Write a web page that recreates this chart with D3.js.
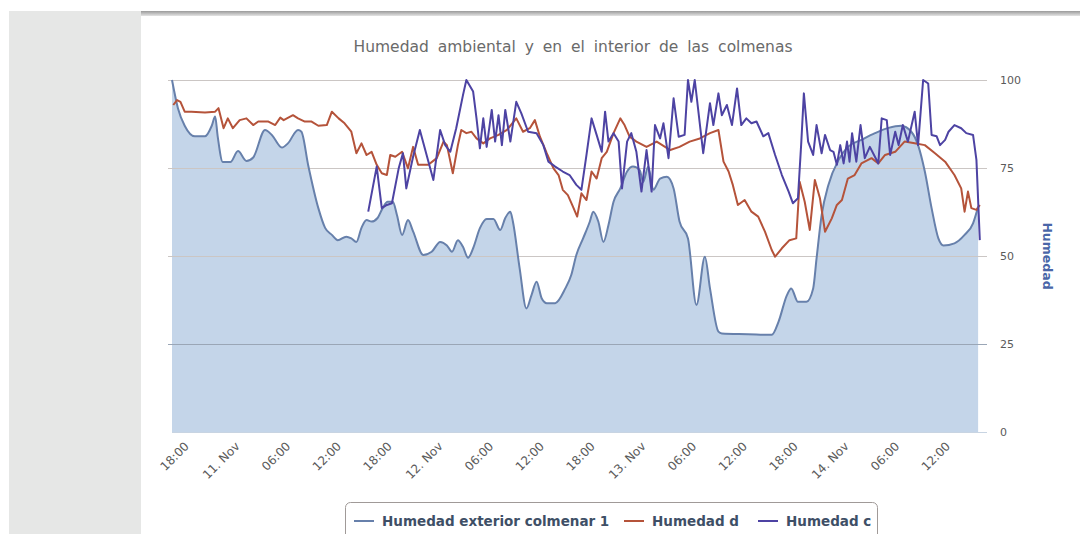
<!DOCTYPE html>
<html>
<head>
<meta charset="utf-8">
<script src="https://cdn.jsdelivr.net/npm/d3@7"></script>
<style>
  html, body { margin: 0; padding: 0; background: #fff; }
  svg { display: block; font-family: "DejaVu Sans", Verdana, sans-serif; }
</style>
</head>
<body>
<svg id="chart" width="1080" height="534"></svg>
<script>
// time of first sample, values given as [hours since start, %]
const startTime = new Date(2013, 10, 10, 16, 30);

const seriesNames = ['Humedad exterior colmenar 1', 'Humedad d', 'Humedad c'];
const yTicks = [0, 25, 50, 75, 100];

const humExterior = [
  [0, 100], [0.7, 92], [1.5, 87], [2.7, 84], [3.9, 84], [4.7, 87], [5.1, 89.6], [5.4, 84],
  [6.0, 76.7], [6.9, 76.7], [7.8, 79.8], [8.8, 77], [9.6, 78], [11.0, 85.8], [11.8, 84.4],
  [13.0, 80.8], [13.7, 82], [14.9, 85.8], [15.3, 85.3], [16.1, 75.8], [17.3, 63.6], [18.1, 58],
  [18.9, 56], [19.6, 54.5], [20.6, 55.5], [21.2, 55], [21.8, 54], [22.4, 58], [23.0, 60.2],
  [23.6, 59.8], [24.3, 60.8], [24.9, 63.6], [25.5, 65.4], [26.1, 65.4], [26.6, 61.6], [27.2, 56],
  [27.9, 60.2], [28.5, 57], [29.7, 50.3], [30.7, 51.2], [31.7, 54], [32.5, 53], [33.1, 51.2],
  [33.8, 54.5], [34.4, 52.6], [35.0, 49.5], [35.6, 52.2], [36.4, 57.9], [37.2, 60.5], [38.0, 60.5],
  [38.8, 57.4], [39.4, 60.8], [40.0, 62.6], [40.3, 59.8], [41.1, 46.5], [41.9, 35.1], [42.5, 38.9],
  [43.1, 42.7], [43.7, 38], [44.3, 36.6], [45.3, 36.6], [46.5, 40.8], [47.2, 44.6], [47.8, 50.3],
  [48.6, 55], [49.4, 59.8], [49.8, 62.6], [50.4, 59.8], [51.0, 54], [51.6, 58.8], [52.2, 65.4],
  [53.0, 69.2], [53.8, 74], [54.5, 75.4], [55.3, 74.4], [55.7, 71], [56.3, 75.4], [56.9, 68.8],
  [57.7, 72], [58.5, 72.5], [59.3, 69.2], [60.0, 59.8], [61.0, 55], [62.0, 36.1], [63.0, 49.8],
  [63.6, 40.8], [64.6, 28.5], [65.0, 28], [68.1, 27.8], [70.9, 27.6], [71.7, 31.3], [72.7, 38.9],
  [73.2, 40.8], [74.0, 37], [75.0, 37], [75.8, 40.8], [76.2, 49.3], [76.8, 61.6], [77.6, 70.2],
  [78.8, 77.3], [79.9, 81], [81.5, 83], [83.1, 84.9], [84.7, 86.4], [86.2, 87], [87.4, 85.3],
  [88.2, 81.5], [89.0, 74], [89.8, 63.6], [90.6, 55], [91.2, 53], [92.5, 53.6], [93.7, 56],
  [94.7, 59.3], [95.3, 64]
];

const humD = [
  [0.15, 92.9], [0.6, 94.3], [1.0, 93.8], [1.5, 91], [2.3, 91], [3.9, 90.8], [5.1, 91], [5.5, 92],
  [6.1, 86.3], [6.6, 89.1], [7.2, 86.3], [8.0, 88.6], [8.8, 89.1], [9.6, 87.2], [10.2, 88.2],
  [11.4, 88.2], [12.2, 87.2], [12.8, 89.3], [13.2, 88.6], [14.3, 90], [14.9, 89.1], [15.7, 88.2],
  [16.5, 88.2], [17.3, 87], [18.3, 87.2], [18.9, 91], [19.7, 89.1], [20.4, 87.7], [21.2, 85.3],
  [21.8, 79.2], [22.4, 82], [23.0, 78.7], [23.6, 79.6], [24.2, 75.9], [24.8, 73.5], [25.4, 73],
  [25.8, 78.7], [26.4, 78.2], [27.2, 79.6], [27.9, 74.9], [28.5, 81], [29.1, 75.9], [30.3, 75.9],
  [31.3, 77.8], [32.1, 82.5], [32.5, 81.5], [33.2, 73.5], [33.8, 81.5], [34.2, 85.8], [34.8, 84.9],
  [35.4, 85.3], [36.0, 83.4], [36.8, 82], [37.6, 83.4], [38.6, 84.4], [39.6, 85.8], [40.7, 89.1],
  [41.5, 85.3], [42.3, 86.3], [42.9, 88.6], [43.5, 83.9], [44.3, 79.2], [45.1, 74.9], [45.7, 73],
  [46.2, 68.8], [46.8, 67.3], [47.4, 64], [47.9, 61.2], [48.4, 67.8], [49.0, 65.9], [49.6, 74],
  [50.2, 72], [50.8, 77.8], [51.4, 79.6], [52.2, 84.9], [53.0, 89.1], [53.5, 87.2], [54.1, 83.9],
  [54.9, 82.5], [56.1, 81], [57.3, 82.5], [58.9, 80.1], [60.0, 81], [61.2, 82.5], [62.4, 83.4],
  [63.6, 84.9], [64.6, 85.8], [65.2, 76.8], [65.8, 74], [66.3, 70.2], [66.9, 64.5], [67.7, 65.9],
  [68.5, 62.6], [69.3, 61.2], [70.1, 56.9], [70.9, 51.7], [71.3, 49.8], [72.1, 52.2], [73.0, 54.5],
  [73.8, 55], [74.2, 71.1], [74.8, 65.4], [75.4, 57.4], [76.0, 71.6], [76.6, 66.4], [77.2, 56.9],
  [78.0, 60.7], [78.6, 64.5], [79.2, 65.9], [79.9, 72], [80.7, 73], [81.5, 76.3], [82.7, 77.8],
  [83.5, 76.3], [84.3, 78.7], [85.5, 79.6], [86.6, 82.5], [87.8, 82], [89.0, 81.5], [90.2, 79.2],
  [91.4, 76.8], [92.5, 73], [93.3, 69.2], [93.7, 62.6], [94.1, 68.3], [94.5, 63.6], [95.1, 63.1],
  [95.5, 64.5]
];

const humC = [
  [23.2, 62.6], [24.2, 75.4], [24.8, 63.6], [25.4, 64.5], [26.0, 65], [26.8, 74.9], [27.3, 79.2],
  [27.7, 69.2], [28.5, 78.2], [29.3, 85.8], [30.1, 78.7], [30.9, 71.6], [31.7, 85.8], [32.3, 81.5],
  [32.9, 79.6], [33.6, 86.3], [34.4, 95.7], [34.8, 100], [35.6, 96.7], [36.0, 89.1], [36.4, 80.6],
  [36.8, 89.1], [37.2, 81], [37.8, 91.5], [38.2, 82.5], [38.6, 90], [39.0, 81.5], [39.4, 91.5],
  [40.0, 82.5], [40.7, 93.8], [41.3, 90.5], [42.1, 85.3], [43.1, 84.9], [43.9, 81.5], [44.5, 76.8],
  [45.3, 75.4], [46.2, 74], [47.0, 73], [47.8, 70.2], [48.4, 68.8], [49.0, 78.7], [49.6, 89.1],
  [50.2, 84.4], [50.8, 79.6], [51.2, 91], [51.6, 82.5], [52.2, 84.9], [52.8, 82.5], [53.2, 69.2],
  [53.8, 82.5], [54.3, 84.9], [54.9, 79.6], [55.5, 68.3], [56.1, 80.1], [56.7, 68.3], [57.1, 87.2],
  [57.7, 83.4], [58.1, 87.7], [58.7, 77.8], [59.3, 94.8], [59.9, 83.9], [60.6, 84.4], [61.0, 100],
  [61.4, 93.8], [61.8, 100], [62.8, 79.2], [63.6, 93.4], [64.0, 87.2], [64.6, 96.2], [65.0, 90],
  [65.6, 92.9], [66.2, 87.2], [66.8, 97.6], [67.3, 87.2], [67.9, 89.1], [68.5, 87.7], [69.1, 88.2],
  [69.9, 84], [70.5, 84.9], [71.3, 78.7], [72.1, 73], [72.9, 68.3], [73.4, 65], [74.0, 66.4],
  [74.4, 82.5], [74.7, 96.2], [75.2, 82.5], [75.8, 78.7], [76.2, 87.2], [76.8, 79.2], [77.2, 84.4],
  [77.8, 80.1], [78.2, 79.6], [78.6, 75.9], [79.0, 81.5], [79.4, 76.3], [79.8, 82.5], [80.1, 76.8],
  [80.4, 84.9], [80.9, 76.8], [81.4, 87.2], [81.9, 77.8], [82.5, 81], [83.1, 78.2], [83.5, 76.3],
  [83.9, 89.1], [84.5, 88.6], [84.9, 78.7], [85.5, 85.3], [85.9, 81.5], [86.4, 87.2], [87.0, 82.5],
  [87.8, 91], [88.2, 81.5], [88.8, 100], [89.4, 99], [89.8, 84.4], [90.4, 84], [90.8, 81.5],
  [91.4, 83], [91.8, 85.3], [92.5, 87.2], [93.3, 86.3], [93.9, 84.9], [94.7, 84.4], [95.1, 77.3],
  [95.5, 54.5]
];

const colors = {
  exteriorLine: '#6780ab',
  exteriorFill: '#c4d5e9',
  d: '#b5533a',
  c: '#4d43a3',
  grid: '#cbc6c4',
  label: '#5a5a5a',
  axisTitle: '#4a66a8',
  legendText: '#3e4f66',
};

const toDate = h => d3.timeMinute.offset(startTime, Math.round(h * 60));

const margin = { left: 172, right: 987, top: 80, bottom: 432 };
const svg = d3.select('#chart');

// page frame: grey side panel and top rule
svg.append('rect').attr('x', 9).attr('y', 11).attr('width', 132).attr('height', 523).attr('fill', '#e6e7e6');
const grad = svg.append('defs').append('linearGradient')
  .attr('id', 'rule').attr('x1', 0).attr('x2', 0).attr('y1', 0).attr('y2', 1);
grad.append('stop').attr('offset', '0%').attr('stop-color', '#9a9a9a');
grad.append('stop').attr('offset', '100%').attr('stop-color', '#e4e4e4');
svg.append('rect').attr('x', 141).attr('y', 11).attr('width', 939).attr('height', 5).attr('fill', 'url(#rule)');

const x = d3.scaleTime()
  .domain([startTime, toDate(96.35)])
  .range([margin.left, margin.right]);

const y = d3.scaleLinear()
  .domain([0, 100])
  .range([margin.bottom, margin.top]);

// title
svg.append('text')
  .attr('x', 573).attr('y', 52)
  .attr('text-anchor', 'middle')
  .attr('font-size', '15.5px')
  .attr('word-spacing', '4px')
  .attr('fill', '#6a6a6a')
  .text('Humedad ambiental y en el interior de las colmenas');

// area of exterior humidity
svg.append('path')
  .datum(humExterior)
  .attr('fill', colors.exteriorFill)
  .attr('d', d3.area()
    .x(d => x(toDate(d[0])))
    .y0(y(0))
    .y1(d => y(d[1]))
    .curve(d3.curveMonotoneX));

// gridlines
svg.append('g')
  .selectAll('line')
  .data(yTicks.filter(t => t > 0))
  .join('line')
    .attr('x1', margin.left - 4)
    .attr('x2', margin.right)
    .attr('y1', d => Math.round(y(d)) + 0.5)
    .attr('y2', d => Math.round(y(d)) + 0.5)
    .attr('stroke', d => (d > 25 ? colors.grid : '#9aa6b6'))
    .attr('stroke-width', 1);

// x axis line
svg.append('line')
  .attr('x1', margin.left).attr('x2', margin.right)
  .attr('y1', y(0) + 0.5).attr('y2', y(0) + 0.5)
  .attr('stroke', '#c8d4e2');

svg.append('path')
  .datum(humExterior)
  .attr('fill', 'none')
  .attr('stroke', colors.exteriorLine)
  .attr('stroke-width', 2)
  .attr('d', d3.line()
    .x(d => x(toDate(d[0])))
    .y(d => y(d[1]))
    .curve(d3.curveMonotoneX));

const line = d3.line()
  .x(d => x(toDate(d[0])))
  .y(d => y(d[1]));

svg.append('path')
  .datum(humD)
  .attr('fill', 'none')
  .attr('stroke', colors.d)
  .attr('stroke-width', 2)
  .attr('stroke-linejoin', 'round')
  .attr('d', line);

svg.append('path')
  .datum(humC)
  .attr('fill', 'none')
  .attr('stroke', colors.c)
  .attr('stroke-width', 2)
  .attr('stroke-linejoin', 'round')
  .attr('d', line);

// right y axis labels
svg.append('g')
  .selectAll('text')
  .data(yTicks)
  .join('text')
    .attr('x', 1000)
    .attr('y', d => y(d) + 4)
    .attr('font-size', '11px')
    .attr('fill', colors.label)
    .text(d => d);

svg.append('text')
  .attr('transform', `translate(1043, ${y(50)}) rotate(90)`)
  .attr('text-anchor', 'middle')
  .attr('font-size', '12.5px')
  .attr('font-weight', 'bold')
  .attr('fill', colors.axisTitle)
  .text('Humedad');

// x axis labels every 6 hours
const ticks = x.ticks(d3.timeHour.every(6)).filter(t => t.getHours() % 6 === 0);
const fmtDay = d3.timeFormat('%e. %b');
const fmtHour = d3.timeFormat('%H:%M');

svg.append('g')
  .selectAll('text')
  .data(ticks)
  .join('text')
    .attr('transform', d => `translate(${x(d) + 5}, 447) rotate(-45)`)
    .attr('text-anchor', 'end')
    .attr('font-size', '12px')
    .attr('fill', colors.label)
    .text(d => (d.getHours() === 0 ? fmtDay(d).trim() : fmtHour(d)));

// legend
const legend = svg.append('g');
legend.append('rect')
  .attr('x', 345.5).attr('y', 502.5)
  .attr('width', 532).attr('height', 40)
  .attr('rx', 5)
  .attr('fill', '#fff')
  .attr('stroke', '#a09a98');

const legendItems = [
  { name: seriesNames[0], color: colors.exteriorLine, x: 354 },
  { name: seriesNames[1], color: colors.d, x: 624 },
  { name: seriesNames[2], color: colors.c, x: 758 },
];

const item = legend.selectAll('g')
  .data(legendItems)
  .join('g')
    .attr('transform', d => `translate(${d.x}, 521)`);

item.append('line')
  .attr('x1', 0).attr('x2', 20)
  .attr('y1', 0).attr('y2', 0)
  .attr('stroke', d => d.color)
  .attr('stroke-width', 2);

item.append('text')
  .attr('x', 28)
  .attr('y', 5)
  .attr('font-size', '13.5px')
  .attr('font-weight', 'bold')
  .attr('fill', colors.legendText)
  .text(d => d.name);
</script>
</body>
</html>
